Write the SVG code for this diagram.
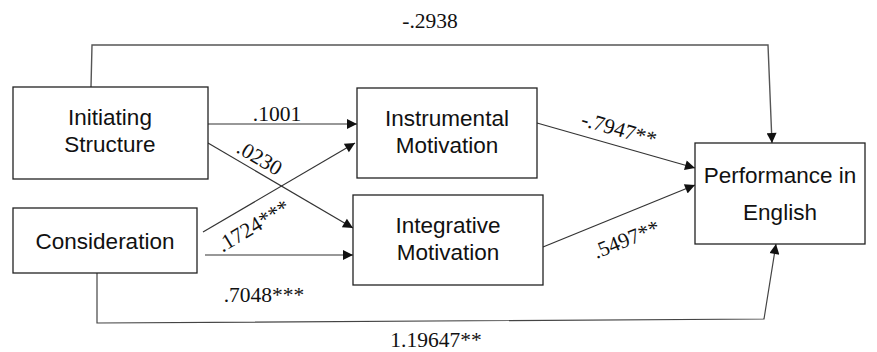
<svg xmlns="http://www.w3.org/2000/svg" width="877" height="352" viewBox="0 0 877 352">
<style>
.box{fill:#fff;stroke:#222;stroke-width:1.3}
.lbl{font-family:"Liberation Sans",Arial,sans-serif;font-size:22.5px;fill:#111;text-anchor:middle}
.num{font-family:"Liberation Serif","Times New Roman",serif;font-size:21.5px;fill:#111;text-anchor:middle}
.ln{fill:none;stroke:#333;stroke-width:1.2}
</style>
<defs>
<marker id="ah" viewBox="0 0 10 10" refX="10" refY="5" markerWidth="12" markerHeight="10" markerUnits="userSpaceOnUse" orient="auto">
<path d="M0,0 L10,5 L0,10 z" fill="#111"/>
</marker>
</defs>
<rect width="877" height="352" fill="#fff"/>
<g id="connectors">
<path class="ln" d="M91,87 L92,45 L768,45 L772,143" marker-end="url(#ah)" style="stroke:#555;stroke-width:1.4"/>
<path class="ln" d="M208,124 L357,124" marker-end="url(#ah)"/>
<path class="ln" d="M208,143 L353,228" marker-end="url(#ah)"/>
<path class="ln" d="M203,232 L355,143" marker-end="url(#ah)"/>
<path class="ln" d="M205,255 L353,255" marker-end="url(#ah)"/>
<path class="ln" d="M537,123 L695,168" marker-end="url(#ah)"/>
<path class="ln" d="M543,247 L695,185" marker-end="url(#ah)"/>
<path class="ln" d="M97,273 L97,323 L764,319 L776,244" marker-end="url(#ah)" style="stroke:#444"/>
<text class="num" x="430" y="28">-.2938</text>
<text class="num" x="277" y="121">.1001</text>
<text class="num" transform="translate(256,164) rotate(30.5)" x="0" y="0">.0230</text>
<text class="num" transform="translate(257,232) rotate(-31)" x="0" y="0">.1724***</text>
<text class="num" x="264" y="302">.7048***</text>
<text class="num" transform="translate(617,136) rotate(16)" x="0" y="0">-.7947**</text>
<text class="num" transform="translate(629,246) rotate(-22)" x="0" y="0">.5497**</text>
<text class="num" x="436" y="347">1.19647**</text>
</g>
<g id="initiating">
<rect class="box" x="13" y="87" width="195" height="92"/>
<text class="lbl" x="110" y="125">Initiating</text>
<text class="lbl" x="110" y="152">Structure</text>
</g>
<g id="consideration">
<rect class="box" x="13" y="208" width="184" height="65"/>
<text class="lbl" x="105" y="249">Consideration</text>
</g>
<g id="instrumental">
<rect class="box" x="357" y="88" width="180" height="90"/>
<text class="lbl" x="447" y="126">Instrumental</text>
<text class="lbl" x="447" y="153">Motivation</text>
</g>
<g id="integrative">
<rect class="box" x="353" y="195" width="190" height="90"/>
<text class="lbl" x="448" y="233">Integrative</text>
<text class="lbl" x="448" y="260">Motivation</text>
</g>
<g id="performance">
<rect class="box" x="695" y="143" width="170" height="101"/>
<text class="lbl" x="780" y="183">Performance in</text>
<text class="lbl" x="780" y="220">English</text>
</g>
</svg>
